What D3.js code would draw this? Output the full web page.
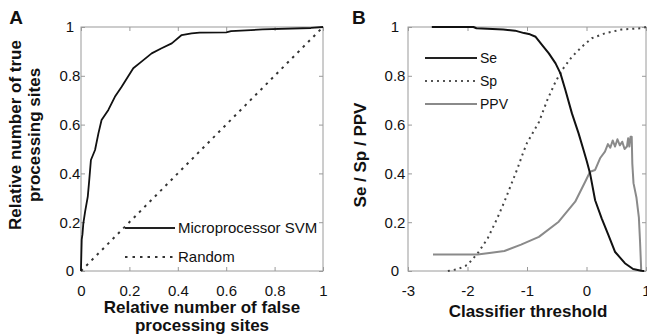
<!DOCTYPE html>
<html>
<head>
<meta charset="utf-8">
<script src="https://cdn.jsdelivr.net/npm/d3@7"></script>
<style>
  body { margin: 0; background: #fff; }
  text { font-family: "Liberation Sans", Arial, sans-serif; fill: #111; }
</style>
</head>
<body>
<svg id="chart" width="647" height="336"></svg>
<script>
// --- Panel A: ROC curve (false rate vs true rate) ---
const rocFpr = [0, 0, 0.003, 0.006, 0.0096, 0.017, 0.028, 0.033, 0.041, 0.058, 0.072, 0.085, 0.113, 0.14, 0.168, 0.19, 0.216, 0.25, 0.292, 0.333, 0.375, 0.416, 0.457, 0.49, 0.6, 0.62, 0.75, 0.95, 1];
const rocTpr = [0, 0.011, 0.13, 0.15, 0.195, 0.243, 0.305, 0.36, 0.455, 0.496, 0.564, 0.619, 0.66, 0.714, 0.755, 0.79, 0.831, 0.858, 0.892, 0.913, 0.933, 0.967, 0.974, 0.977, 0.978, 0.983, 0.99, 0.996, 1];
const randomFpr = [0, 1];
const randomTpr = [0, 1];

// --- Panel B: Se / Sp / PPV vs classifier threshold ---
const seX = [-2.6, -1.9, -1.85, -1.4, -1.2, -1.05, -0.95, -0.855, -0.745, -0.633, -0.52, -0.438, -0.355, -0.245, -0.133, -0.05, 0.005, 0.06, 0.145, 0.255, 0.367, 0.478, 0.645, 0.783, 0.92, 0.97];
const seY = [1, 1, 0.995, 0.99, 0.985, 0.975, 0.97, 0.96, 0.926, 0.892, 0.851, 0.81, 0.742, 0.646, 0.564, 0.496, 0.45, 0.40, 0.29, 0.216, 0.148, 0.079, 0.032, 0.008, 0.001, 0];

const spX = [-2.33, -2.16, -2.0, -1.83, -1.66, -1.5, -1.38, -1.27, -1.16, -1.08, -1.0, -0.8, -0.66, -0.52, -0.41, -0.245, -0.078, 0.088, 0.31, 0.59, 0.92, 1];
const spY = [0, 0.008, 0.025, 0.072, 0.134, 0.216, 0.284, 0.352, 0.42, 0.475, 0.525, 0.61, 0.70, 0.776, 0.824, 0.878, 0.919, 0.954, 0.974, 0.99, 0.995, 1];

const ppvX = [-2.58, -1.83, -1.6, -1.38, -1.1, -0.8, -0.467, -0.19, -0.022, 0.06, 0.145, 0.228, 0.31, 0.36, 0.4, 0.44, 0.48, 0.52, 0.56, 0.6, 0.64, 0.68, 0.7, 0.72, 0.74, 0.76, 0.77, 0.79, 0.84, 0.88, 0.9, 0.92];
const ppvY = [0.068, 0.068, 0.075, 0.082, 0.108, 0.14, 0.202, 0.284, 0.366, 0.407, 0.414, 0.462, 0.489, 0.52, 0.505, 0.535, 0.51, 0.54, 0.515, 0.53, 0.5, 0.51, 0.544, 0.51, 0.55, 0.55, 0.44, 0.36, 0.30, 0.22, 0.12, 0];

// ticks
const yTicks = [0, 0.2, 0.4, 0.6, 0.8, 1];
const rocXTicks = [0, 0.2, 0.4, 0.6, 0.8, 1];
const thrTicks = [-3, -2, -1, 0, 1];

const svg = d3.select("#chart");
// plain hyphen for negatives, like the original
const fmt = d => String(+d.toFixed(2));
const frameColor = "#9a9a9a";

const yScale = d3.scaleLinear().domain([0, 1]).range([271, 27]);

function drawFrame(x, xTicks, yLabelOffset) {
    const g = svg.append("g");
    const [x0, x1] = x.range();
    const [y0, y1] = yScale.range();

    g.append("rect")
        .attr("x", x0).attr("y", y1)
        .attr("width", x1 - x0).attr("height", y0 - y1)
        .attr("fill", "none").attr("stroke", frameColor).attr("stroke-width", 1);

    // bottom axis with labels, ticks inward
    const bottom = g.append("g").attr("transform", `translate(0,${y0})`)
        .call(d3.axisBottom(x).tickValues(xTicks).tickSize(-4).tickPadding(14).tickFormat(fmt));
    // top, left, right: ticks only
    const top = g.append("g").attr("transform", `translate(0,${y1})`)
        .call(d3.axisTop(x).tickValues(xTicks).tickSize(-4).tickFormat(""));
    const left = g.append("g").attr("transform", `translate(${x0},0)`)
        .call(d3.axisLeft(yScale).tickValues(yTicks).tickSize(-4).tickPadding(yLabelOffset).tickFormat(fmt));
    const right = g.append("g").attr("transform", `translate(${x1},0)`)
        .call(d3.axisRight(yScale).tickValues(yTicks).tickSize(-4).tickFormat(""));

    [bottom, top, left, right].forEach(a => {
        a.select(".domain").remove();
        a.selectAll(".tick line").attr("stroke", frameColor);
        a.selectAll("text")
            .attr("font-size", 15)
            .attr("font-family", "Liberation Sans, Arial, sans-serif")
            .attr("fill", "#111");
    });
    left.selectAll("text").attr("text-anchor", "middle");
    return g;
}

function drawSeries(x, xs, ys, color, width, dash) {
    const line = d3.line()
        .x(i => x(xs[i]))
        .y(i => yScale(ys[i]));
    svg.append("path")
        .datum(d3.range(xs.length))
        .attr("d", line)
        .attr("fill", "none")
        .attr("stroke", color)
        .attr("stroke-width", width)
        .attr("stroke-linejoin", "round")
        .attr("stroke-dasharray", dash || null);
}

function legendEntry(x1, x2, y, label, color, width, dash, size) {
    svg.append("line")
        .attr("x1", x1).attr("x2", x2).attr("y1", y).attr("y2", y)
        .attr("stroke", color).attr("stroke-width", width)
        .attr("stroke-dasharray", dash || null);
    svg.append("text")
        .attr("x", x2 + 3).attr("y", y)
        .attr("dy", "0.35em")
        .attr("font-size", size)
        .text(label);
}

// ---------- Panel A ----------
const xA = d3.scaleLinear().domain([0, 1]).range([81, 323]);
drawFrame(xA, rocXTicks, 11);
drawSeries(xA, randomFpr, randomTpr, "#333", 2, "2.5,5");
drawSeries(xA, rocFpr, rocTpr, "#111", 1.8);

legendEntry(125, 175, 228, "Microprocessor SVM", "#222", 1.8, null, 15);
legendEntry(125, 175, 257, "Random", "#333", 2, "2.5,5", 15);

svg.append("text").attr("x", 16).attr("y", 24)
    .attr("text-anchor", "middle").attr("font-size", 19).attr("font-weight", "bold").text("A");

svg.append("text").attr("x", 202).attr("y", 313)
    .attr("text-anchor", "middle").attr("font-size", 17).attr("font-weight", "bold")
    .text("Relative number of false");
svg.append("text").attr("x", 202).attr("y", 331)
    .attr("text-anchor", "middle").attr("font-size", 17).attr("font-weight", "bold")
    .text("processing sites");

svg.append("text").attr("transform", "translate(21,135) rotate(-90)")
    .attr("text-anchor", "middle").attr("font-size", 17).attr("font-weight", "bold")
    .text("Relative number of true");
svg.append("text").attr("transform", "translate(40,135) rotate(-90)")
    .attr("text-anchor", "middle").attr("font-size", 17).attr("font-weight", "bold")
    .text("processing sites");

// ---------- Panel B ----------
const xB = d3.scaleLinear().domain([-3, 1]).range([408, 646]);
drawFrame(xB, thrTicks, 13);
drawSeries(xB, spX, spY, "#444", 2, "2,4");
drawSeries(xB, ppvX, ppvY, "#8a8a8a", 2);
drawSeries(xB, seX, seY, "#111", 2);

legendEntry(425, 477, 58, "Se", "#222", 2, null, 14);
legendEntry(425, 477, 81, "Sp", "#555", 2, "2,4", 14);
legendEntry(425, 477, 104, "PPV", "#8a8a8a", 2, null, 14);

svg.append("text").attr("x", 352).attr("y", 24)
    .attr("font-size", 19).attr("font-weight", "bold").text("B");

svg.append("text").attr("x", 528).attr("y", 317)
    .attr("text-anchor", "middle").attr("font-size", 17).attr("font-weight", "bold")
    .text("Classifier threshold");

svg.append("text").attr("transform", "translate(366,155) rotate(-90)")
    .attr("text-anchor", "middle").attr("font-size", 17).attr("font-weight", "bold")
    .text("Se / Sp / PPV");
</script>
</body>
</html>
